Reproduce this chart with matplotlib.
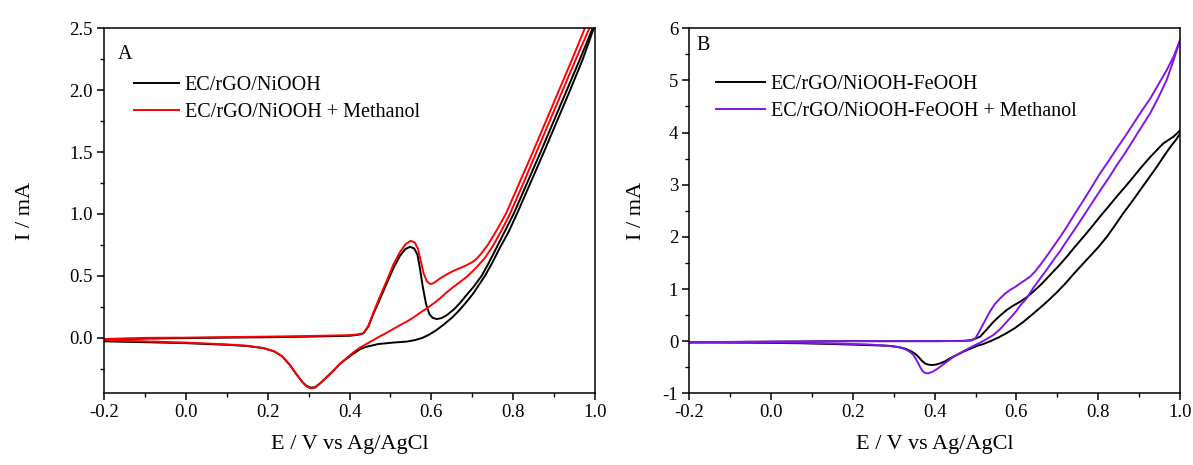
import matplotlib
matplotlib.use('Agg')
import matplotlib.pyplot as plt
from matplotlib.ticker import MultipleLocator

plt.rcParams['font.family'] = ['Liberation Serif', 'DejaVu Serif']

# ---- panel A : EC/rGO/NiOOH ----
# anodic (forward) scan
a_blk_fwd_x = [-0.2, -0.15, -0.1, 0.0, 0.1, 0.2, 0.3, 0.4, 0.42, 0.434, 0.446, 0.458, 0.474, 0.491,
               0.507, 0.523, 0.536, 0.548, 0.558, 0.566, 0.572, 0.579, 0.587, 0.595, 0.603, 0.613,
               0.625, 0.637, 0.654, 0.670, 0.686, 0.703, 0.723, 0.738, 0.752, 0.775, 0.801,
               0.834, 0.867, 0.899, 0.931, 0.963, 0.994, 1.0]
a_blk_fwd_y = [-0.02, -0.012, -0.008, -0.004, 0.0, 0.003, 0.008, 0.015, 0.022, 0.035, 0.09, 0.19, 0.31, 0.44,
               0.56, 0.66, 0.715, 0.734, 0.72, 0.67, 0.56, 0.41, 0.27, 0.19, 0.16, 0.15,
               0.158, 0.18, 0.225, 0.28, 0.345, 0.41, 0.5, 0.59, 0.68, 0.83, 1.0,
               1.25, 1.5, 1.75, 2.0, 2.25, 2.5, 2.53]
# cathodic (reverse) scan
a_blk_rev_x = [1.0, 0.970, 0.939, 0.907, 0.875, 0.842, 0.809, 0.788, 0.768, 0.748, 0.731, 0.703, 0.685,
               0.668, 0.650, 0.630, 0.612, 0.595, 0.578, 0.560, 0.540, 0.507, 0.470, 0.440, 0.425, 0.409,
               0.393, 0.377, 0.360, 0.344, 0.328, 0.316, 0.305, 0.295, 0.285, 0.271, 0.254, 0.235,
               0.215, 0.190, 0.150, 0.100, 0.0, -0.1, -0.2]
a_blk_rev_y = [2.53, 2.25, 2.0, 1.75, 1.5, 1.25, 1.0, 0.85, 0.73, 0.6, 0.5, 0.36, 0.285,
               0.22, 0.16, 0.105, 0.06, 0.025, -0.002, -0.02, -0.032, -0.04, -0.052, -0.075, -0.095, -0.13,
               -0.17, -0.21, -0.27, -0.32, -0.37, -0.40, -0.405, -0.39, -0.36, -0.3, -0.22, -0.15,
               -0.11, -0.085, -0.068, -0.058, -0.045, -0.037, -0.03]

a_red_fwd_x = [-0.2, -0.15, -0.1, 0.0, 0.1, 0.2, 0.3, 0.4, 0.42, 0.434, 0.446, 0.458, 0.474, 0.491,
               0.507, 0.523, 0.537, 0.549, 0.559, 0.567, 0.574, 0.581, 0.589, 0.597, 0.605, 0.621,
               0.637, 0.654, 0.670, 0.686, 0.700, 0.710, 0.722, 0.738, 0.760, 0.782, 0.815, 0.848,
               0.880, 0.912, 0.944, 0.975, 1.0]
a_red_fwd_y = [-0.012, -0.006, -0.002, 0.0, 0.004, 0.008, 0.013, 0.02, 0.026, 0.035, 0.095, 0.2, 0.33, 0.46,
               0.59, 0.69, 0.755, 0.782, 0.77, 0.72, 0.62, 0.52, 0.455, 0.433, 0.44, 0.478,
               0.51, 0.54, 0.562, 0.585, 0.61, 0.635, 0.68, 0.75, 0.87, 1.0, 1.25, 1.5,
               1.75, 2.0, 2.25, 2.5, 2.66]
a_red_rev_x = [1.0, 0.986, 0.953, 0.921, 0.889, 0.857, 0.825, 0.792, 0.772, 0.752, 0.730, 0.708, 0.686,
               0.670, 0.654, 0.637, 0.621, 0.605, 0.589, 0.572, 0.556, 0.540, 0.523, 0.507,
               0.491, 0.474, 0.458, 0.442, 0.426, 0.409, 0.393, 0.377, 0.360, 0.344, 0.328, 0.316,
               0.305, 0.295, 0.285, 0.271, 0.254, 0.235, 0.215, 0.190, 0.150, 0.100, 0.0, -0.1, -0.2]
a_red_rev_y = [2.66, 2.5, 2.25, 2.0, 1.75, 1.5, 1.25, 1.0, 0.87, 0.75, 0.64, 0.56, 0.49,
               0.45, 0.41, 0.365, 0.317, 0.275, 0.237, 0.2, 0.162, 0.13, 0.1, 0.07,
               0.04, 0.01, -0.02, -0.05, -0.08, -0.12, -0.165, -0.21, -0.27, -0.32, -0.37, -0.405,
               -0.41, -0.395, -0.36, -0.3, -0.22, -0.15, -0.11, -0.085, -0.066, -0.055, -0.04, -0.03, -0.022]

# ---- panel B : EC/rGO/NiOOH-FeOOH ----
b_blk_fwd_x = [-0.2, 0.0, 0.2, 0.4, 0.47, 0.49, 0.511, 0.527, 0.544, 0.560, 0.576, 0.592, 0.609,
               0.625, 0.641, 0.662, 0.682, 0.703, 0.723, 0.743, 0.764, 0.784, 0.804, 0.825, 0.845,
               0.866, 0.886, 0.906, 0.927, 0.943, 0.959, 0.972, 0.984, 0.996, 1.0]
b_blk_fwd_y = [-0.02, -0.01, 0.0, 0.0, 0.005, 0.02, 0.085, 0.22, 0.373, 0.49, 0.596, 0.68, 0.756,
               0.84, 0.948, 1.1, 1.267, 1.44, 1.618, 1.81, 2.0, 2.19, 2.385, 2.58, 2.77,
               2.96, 3.15, 3.34, 3.53, 3.66, 3.79, 3.86, 3.92, 4.01, 4.04]
b_blk_rev_x = [1.0, 0.990, 0.976, 0.960, 0.943, 0.922, 0.902, 0.882, 0.861, 0.841, 0.821, 0.800,
               0.780, 0.760, 0.739, 0.719, 0.698, 0.678, 0.658, 0.637, 0.617, 0.596, 0.576, 0.556,
               0.535, 0.519, 0.503, 0.487, 0.470, 0.454, 0.437, 0.425, 0.413, 0.403, 0.393, 0.384,
               0.376, 0.368, 0.360, 0.352, 0.344, 0.330, 0.315, 0.290, 0.234, 0.15, 0.07, -0.05, -0.2]
b_blk_rev_y = [3.98, 3.86, 3.72, 3.54, 3.34, 3.11, 2.89, 2.67, 2.45, 2.22, 2.0, 1.8,
               1.63, 1.46, 1.28, 1.1, 0.93, 0.78, 0.64, 0.5, 0.37, 0.25, 0.155, 0.07,
               -0.005, -0.055, -0.094, -0.145, -0.202, -0.265, -0.33, -0.39, -0.426, -0.45, -0.458, -0.45,
               -0.426, -0.37, -0.298, -0.24, -0.202, -0.15, -0.119, -0.09, -0.075, -0.055, -0.04, -0.03, -0.025]

b_pur_fwd_x = [-0.2, 0.0, 0.2, 0.4, 0.47, 0.49, 0.500, 0.511, 0.523, 0.535, 0.547, 0.560, 0.572,
               0.584, 0.597, 0.609, 0.621, 0.633, 0.645, 0.658, 0.674, 0.690, 0.707, 0.723, 0.743,
               0.764, 0.784, 0.804, 0.825, 0.845, 0.866, 0.886, 0.906, 0.927, 0.947, 0.967, 0.984, 1.0]
b_pur_fwd_y = [-0.02, -0.01, 0.0, 0.0, 0.003, 0.012, 0.06, 0.213, 0.39, 0.565, 0.71, 0.82, 0.91,
               0.98, 1.04, 1.107, 1.17, 1.235, 1.33, 1.459, 1.63, 1.81, 2.0, 2.19, 2.445,
               2.70, 2.955, 3.21, 3.45, 3.69, 3.93, 4.17, 4.41, 4.65, 4.92, 5.19, 5.45, 5.77]
b_pur_rev_x = [1.0, 0.984, 0.967, 0.947, 0.927, 0.906, 0.886, 0.866, 0.845, 0.825, 0.804, 0.784,
               0.764, 0.743, 0.723, 0.707, 0.690, 0.674, 0.658, 0.641, 0.625, 0.609, 0.600, 0.588,
               0.576, 0.560, 0.544, 0.527, 0.511, 0.495, 0.478, 0.462, 0.446, 0.429, 0.417, 0.405, 0.394,
               0.384, 0.378, 0.372, 0.366, 0.360, 0.354, 0.348, 0.340, 0.332, 0.320, 0.307, 0.270,
               0.234, 0.15, 0.07, -0.05, -0.2]
b_pur_rev_y = [5.77, 5.38, 5.0, 4.67, 4.37, 4.11, 3.86, 3.61, 3.37, 3.12, 2.88, 2.64,
               2.4, 2.15, 1.92, 1.73, 1.55, 1.37, 1.2, 1.02, 0.82, 0.68, 0.58, 0.47,
               0.37, 0.23, 0.12, 0.04, -0.03, -0.09, -0.16, -0.23, -0.30, -0.40, -0.47, -0.54, -0.59,
               -0.617, -0.612, -0.586, -0.52, -0.426, -0.34, -0.266, -0.21, -0.17, -0.13, -0.106, -0.08,
               -0.062, -0.045, -0.03, -0.025, -0.02]

lab_a = ['EC/rGO/NiOOH', 'EC/rGO/NiOOH + Methanol']
lab_b = ['EC/rGO/NiOOH-FeOOH', 'EC/rGO/NiOOH-FeOOH + Methanol']
red = '#ff0000'
purple = '#8214f0'

fig = plt.figure(figsize=(11.93, 4.65), dpi=100)
ax1 = fig.add_axes([0.0872, 0.1542, 0.4116, 0.785])
ax2 = fig.add_axes([0.5778, 0.1542, 0.4113, 0.785])

lw = 1.4
l1, = ax1.plot(a_blk_fwd_x, a_blk_fwd_y, color='black', lw=lw)
ax1.plot(a_blk_rev_x, a_blk_rev_y, color='black', lw=lw)
l2, = ax1.plot(a_red_fwd_x, a_red_fwd_y, color=red, lw=lw)
ax1.plot(a_red_rev_x, a_red_rev_y, color=red, lw=lw)

m1, = ax2.plot(b_blk_fwd_x, b_blk_fwd_y, color='black', lw=lw)
ax2.plot(b_blk_rev_x, b_blk_rev_y, color='black', lw=lw)
m2, = ax2.plot(b_pur_fwd_x, b_pur_fwd_y, color=purple, lw=lw)
ax2.plot(b_pur_rev_x, b_pur_rev_y, color=purple, lw=lw)

ax1.set_xlim(-0.2, 1.0)
ax1.set_ylim(-0.45, 2.5)
ax1.yaxis.set_major_locator(MultipleLocator(0.5))
ax1.yaxis.set_minor_locator(MultipleLocator(0.25))
ax1.set_yticks([0.0, 0.5, 1.0, 1.5, 2.0, 2.5])

ax2.set_xlim(-0.2, 1.0)
ax2.set_ylim(-1, 6)
ax2.yaxis.set_major_locator(MultipleLocator(1))
ax2.yaxis.set_minor_locator(MultipleLocator(0.5))

for ax in (ax1, ax2):
    ax.xaxis.set_major_locator(MultipleLocator(0.2))
    ax.xaxis.set_minor_locator(MultipleLocator(0.1))
    ax.xaxis.set_major_formatter(plt.FuncFormatter(lambda v, p: '%.1f' % v))
    ax.tick_params(which='major', direction='out', length=5, width=1.1, labelsize=13.5,
                   top=False, right=False, pad=3)
    ax.tick_params(which='minor', direction='out', length=3, width=1.0, top=False, right=False)
    for s in ax.spines.values():
        s.set_linewidth(1.1)
    ax.set_xlabel('E / V vs Ag/AgCl', fontsize=16, labelpad=10)

ax1.set_ylabel('I / mA', fontsize=16, labelpad=25)
ax2.set_ylabel('I / mA', fontsize=16, labelpad=12)

ax1.yaxis.set_major_formatter(plt.FuncFormatter(lambda v, p: '%.1f' % v))
ax2.yaxis.set_major_formatter(plt.FuncFormatter(lambda v, p: '%d' % v))

ax1.text(0.028, 0.915, 'A', transform=ax1.transAxes, fontsize=14.5)
ax2.text(0.014, 0.94, 'B', transform=ax2.transAxes, fontsize=14.5)

ax1.legend([l1, l2], lab_a, loc='upper left', bbox_to_anchor=(0.062, 0.869), frameon=False,
           fontsize=14.5, handlelength=2.2, handletextpad=0.3, labelspacing=0.4,
           borderpad=0, borderaxespad=0)
ax2.legend([m1, m2], lab_b, loc='upper left', bbox_to_anchor=(0.055, 0.871), frameon=False,
           fontsize=14.5, handlelength=2.4, handletextpad=0.3, labelspacing=0.37,
           borderpad=0, borderaxespad=0)

fig.savefig('out.png', dpi=100)
